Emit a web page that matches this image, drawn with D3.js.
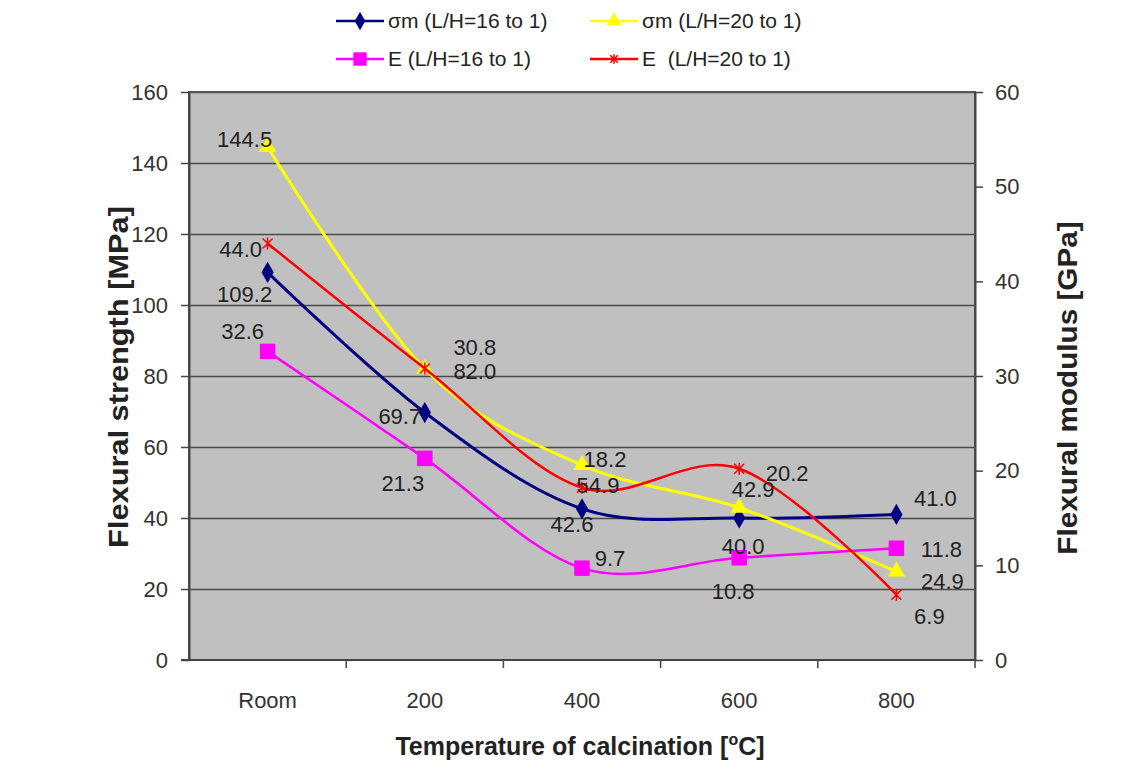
<!DOCTYPE html>
<html lang="en">
<head>
<meta charset="UTF-8">
<title>Flexural strength and modulus vs calcination temperature</title>
<script src="https://d3js.org/d3.v7.min.js"></script>
<style>
  body { margin: 0; background: #fff; }
  svg { font-family: "Liberation Sans", Arial, sans-serif; }
</style>
</head>
<body>
<svg width="1135" height="764"></svg>
<script>
// data
const categories = ["Room", "200", "400", "600", "800"];
const sigma16 = [109.2, 69.7, 42.6, 40.0, 41.0];   // left axis, MPa
const sigma20 = [144.5, 82.0, 54.9, 42.9, 24.9];   // left axis, MPa
const modulus16 = [32.6, 21.3, 9.7, 10.8, 11.8];   // right axis, GPa
const modulus20 = [44.0, 30.8, 18.2, 20.2, 6.9];   // right axis, GPa
const leftTicks = [0, 20, 40, 60, 80, 100, 120, 140, 160];
const rightTicks = [0, 10, 20, 30, 40, 50, 60];

// label offsets (dx, dy) from each point, per series
const labelOffsets = {
    sigma16:   [[-23, 22], [-25, 4], [-10, 16], [4, 28], [39, -16]],
    sigma20:   [[-23, -8], [50, 2], [16, 20], [14, -18], [46, 10]],
    modulus16: [[-25, -20], [-22, 25], [28, -10], [-6, 34], [45, 1]],
    modulus20: [[-27, 6], [50, -21], [23, -28], [48, 5], [33, 22]]
};

const plot = { left: 189, right: 975, top: 92, bottom: 660 };
const svg = d3.select("svg");

const x = d3.scaleBand().domain(categories).range([plot.left, plot.right]).padding(0);
const yL = d3.scaleLinear().domain([0, 160]).range([plot.bottom, plot.top]);
const yR = d3.scaleLinear().domain([0, 60]).range([plot.bottom, plot.top]);
const cx = c => x(c) + x.bandwidth() / 2;

// plot background
svg.append("rect")
   .attr("x", plot.left).attr("y", plot.top)
   .attr("width", plot.right - plot.left).attr("height", plot.bottom - plot.top)
   .attr("fill", "#c0c0c0");

// gridlines
svg.append("g")
   .attr("transform", `translate(${plot.left},0)`)
   .call(d3.axisLeft(yL).tickValues(leftTicks.slice(1)).tickSize(-(plot.right - plot.left)).tickFormat(""))
   .call(g => g.select(".domain").remove())
   .selectAll("line").attr("stroke", "#4a4a4a").attr("stroke-width", 1.6);

// border
svg.append("rect")
   .attr("x", plot.left).attr("y", plot.top)
   .attr("width", plot.right - plot.left).attr("height", plot.bottom - plot.top)
   .attr("fill", "none").attr("stroke", "#555").attr("stroke-width", 2);

// axes
const axisStyle = g => {
    g.selectAll(".domain").attr("stroke", "#444").attr("stroke-width", 2);
    g.selectAll(".tick line").attr("stroke", "#444").attr("stroke-width", 1.5);
    g.selectAll("text").attr("fill", "#333").style("font-size", "22px");
};

svg.append("g")
   .attr("transform", `translate(${plot.left},0)`)
   .call(d3.axisLeft(yL).tickValues(leftTicks).tickSize(8).tickPadding(13).tickSizeOuter(0))
   .call(axisStyle);

svg.append("g")
   .attr("transform", `translate(${plot.right},0)`)
   .call(d3.axisRight(yR).tickValues(rightTicks).tickSize(8).tickPadding(12).tickSizeOuter(0))
   .call(axisStyle);

// x axis: ticks at category boundaries
const xAxis = svg.append("g").attr("transform", `translate(0,${plot.bottom})`);
xAxis.append("line")
     .attr("x1", plot.left - 8).attr("x2", plot.right)
     .attr("stroke", "#444").attr("stroke-width", 2);
xAxis.selectAll(".bound")
     .data(categories.slice(1))
     .join("line")
     .attr("x1", d => x(d)).attr("x2", d => x(d))
     .attr("y1", 0).attr("y2", 8)
     .attr("stroke", "#444").attr("stroke-width", 1.5);
xAxis.append("line")
     .attr("x1", plot.right).attr("x2", plot.right).attr("y1", 0).attr("y2", 8)
     .attr("stroke", "#444").attr("stroke-width", 1.5);
xAxis.selectAll(".lbl")
     .data(categories)
     .join("text")
     .attr("x", d => cx(d)).attr("y", 40)
     .attr("dy", "0.35em")
     .attr("text-anchor", "middle")
     .attr("fill", "#333").style("font-size", "22px")
     .text(d => d);

// axis titles (slightly stretched along the text, as in the source image)
svg.append("text")
   .attr("transform", `translate(119,${(plot.top + plot.bottom) / 2 + 1}) rotate(-90) scale(1.14,1)`)
   .attr("text-anchor", "middle").attr("dy", "0.35em")
   .style("font-size", "27px").style("font-weight", "bold").attr("fill", "#222")
   .text("Flexural strength [MPa]");

svg.append("text")
   .attr("transform", `translate(1068,${(plot.top + plot.bottom) / 2 + 12}) rotate(-90) scale(1.1,1)`)
   .attr("text-anchor", "middle").attr("dy", "0.35em")
   .style("font-size", "27px").style("font-weight", "bold").attr("fill", "#222")
   .text("Flexural modulus [GPa]");

const xTitle = svg.append("text")
   .attr("x", 580).attr("y", 755)
   .attr("text-anchor", "middle")
   .style("font-size", "25px").style("font-weight", "bold").attr("fill", "#222");
xTitle.append("tspan").text("Temperature of calcination [");
xTitle.append("tspan").attr("dy", -10).style("font-size", "16px").text("o");
xTitle.append("tspan").attr("dy", 10).text("C]");

// series
const series = [
    { key: "sigma16", values: sigma16, y: yL, color: "#000080", marker: "diamond", width: 3 },
    { key: "sigma20", values: sigma20, y: yL, color: "#ffff00", marker: "triangle", width: 3 },
    { key: "modulus16", values: modulus16, y: yR, color: "#ff00ff", marker: "square", width: 2.5 },
    { key: "modulus20", values: modulus20, y: yR, color: "#ff0000", marker: "star", width: 2.5 }
];

const line = d3.line().curve(d3.curveCatmullRom.alpha(0));

const drawMarker = (g, type, color, px, py, scale = 1) => {
    if (type === "diamond") {
        g.append("path").attr("d", d3.symbol(d3.symbolDiamond, 130 * scale)())
         .attr("transform", `translate(${px},${py})`).attr("fill", color);
    } else if (type === "triangle") {
        g.append("path").attr("d", d3.symbol(d3.symbolTriangle, 130 * scale)())
         .attr("transform", `translate(${px},${py})`).attr("fill", color);
    } else if (type === "square") {
        g.append("path").attr("d", d3.symbol(d3.symbolSquare, 240 * scale)())
         .attr("transform", `translate(${px},${py})`).attr("fill", color);
    } else {
        const s = 5 * scale;
        g.append("path")
         .attr("d", `M${-s},${-s}L${s},${s}M${-s},${s}L${s},${-s}M0,${-s - 1}L0,${s + 1}`)
         .attr("transform", `translate(${px},${py})`)
         .attr("stroke", color).attr("stroke-width", 1.5).attr("fill", "none");
    }
};

series.forEach(s => {
    const pts = s.values.map((v, i) => [cx(categories[i]), s.y(v)]);
    svg.append("path")
       .attr("d", line(pts))
       .attr("fill", "none")
       .attr("stroke", s.color)
       .attr("stroke-width", s.width);
    const mg = svg.append("g");
    pts.forEach(p => drawMarker(mg, s.marker, s.color, p[0], p[1]));
});

// data labels
series.forEach(s => {
    svg.append("g").selectAll("text")
       .data(s.values)
       .join("text")
       .attr("x", (d, i) => cx(categories[i]) + labelOffsets[s.key][i][0])
       .attr("y", (d, i) => s.y(d) + labelOffsets[s.key][i][1])
       .attr("dy", "0.35em")
       .attr("text-anchor", "middle")
       .attr("fill", "#222")
       .style("font-size", "22px")
       .text(d => d.toFixed(1));
});

// legend
const legendItems = [
    { label: "σm (L/H=16 to 1)", color: "#000080", marker: "diamond", x: 336, y: 21 },
    { label: "σm (L/H=20 to 1)", color: "#ffff00", marker: "triangle", x: 590, y: 21 },
    { label: "E (L/H=16 to 1)", color: "#ff00ff", marker: "square", x: 336, y: 59 },
    { label: "E  (L/H=20 to 1)", color: "#ff0000", marker: "star", x: 590, y: 59 }
];
const legend = svg.append("g");
legendItems.forEach(d => {
    legend.append("line")
          .attr("x1", d.x).attr("x2", d.x + 48)
          .attr("y1", d.y).attr("y2", d.y)
          .attr("stroke", d.color).attr("stroke-width", 2.5);
    drawMarker(legend, d.marker, d.color, d.x + 24, d.y, 0.75);
    legend.append("text")
          .attr("x", d.x + 52).attr("y", d.y).attr("dy", "0.35em")
          .attr("fill", "#222").style("font-size", "21px")
          .attr("xml:space", "preserve")
          .text(d.label);
});
</script>
</body>
</html>
